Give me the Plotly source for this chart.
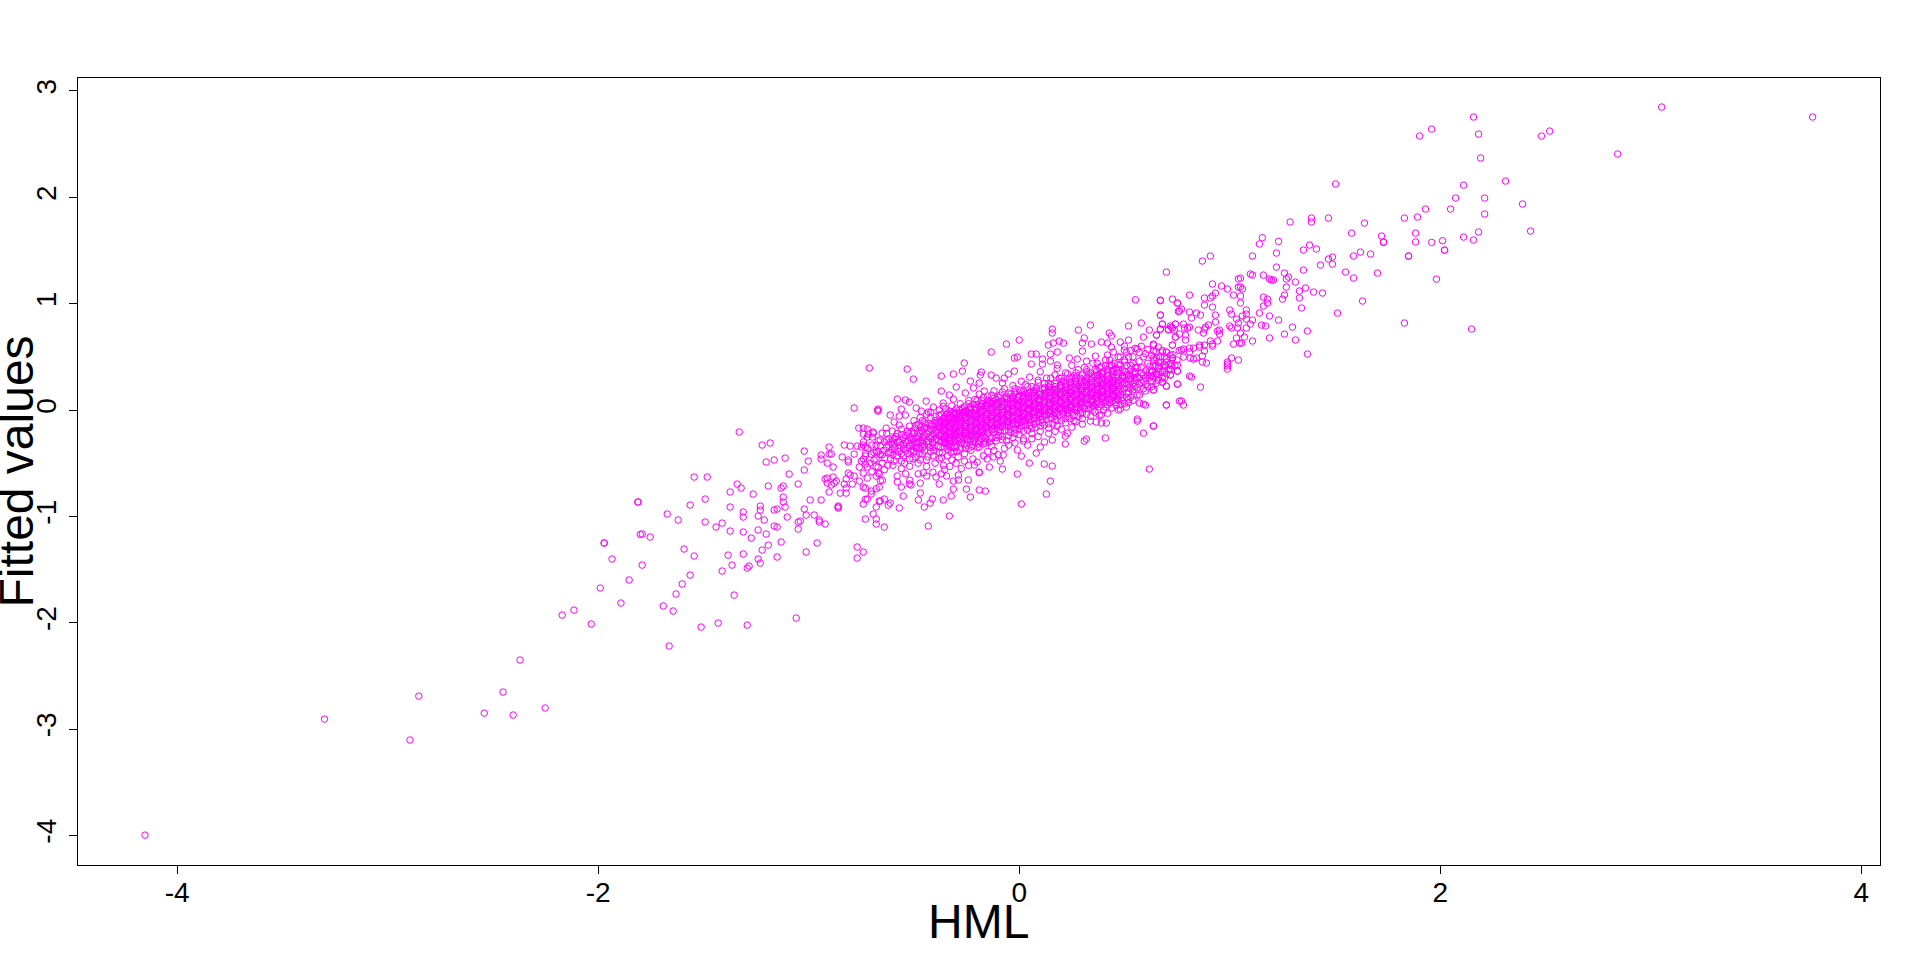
import plotly.graph_objects as go

X_TICKS = [-4, -2, 0, 2, 4]
Y_TICKS = [-4, -3, -2, -1, 0, 1, 2, 3]

# (HML, fitted value) pairs
FAR_LOW = [(-4.153,-3.997),(-3.30,-2.906),(-2.852,-2.69),(-2.894,-3.103),(-2.541,-2.85),(-2.452,-2.652),(-2.404,-2.868),(-2.371,-2.351),(-2.252,-2.802),(-2.171,-1.928),(-2.115,-1.881),(-2.033,-2.012),(-1.99,-1.674),(-1.971,-1.25),(-1.934,-1.401),(-1.892,-1.815),(-1.853,-1.598),(-1.812,-0.865),(-1.80,-1.17),(-1.753,-1.194),(-1.791,-1.458),(-1.511,-2.041),(-1.43,-2.003),(-1.292,-2.022),(-1.663,-2.219)]

LOW_SPARSE = [(-0.784,0.019),(-0.673,-0.003),(-1.33,-0.207),(-1.221,-0.329),(-1.183,-0.31),(-0.762,-0.17),(-0.741,-0.17),(-0.722,-0.179),(-0.741,-0.226),(-0.717,-0.226),(-0.694,-0.207),(-0.722,-0.254),(-0.698,-0.254),(-1.021,-0.386),(-0.903,-0.348),(-0.831,-0.329),(-0.803,-0.339),(-0.77,-0.339),(-0.75,-0.348),(-0.741,-0.329),(-0.731,-0.348),(-0.941,-0.423),(-0.941,-0.461),(-0.903,-0.414),(-0.893,-0.414),(-0.912,-0.499),(-0.884,-0.536),(-0.841,-0.442),(-0.812,-0.47),(-0.812,-0.489),(-0.784,-0.414),(-1.202,-0.489),(-1.164,-0.47),(-1.112,-0.452),(-1.002,-0.48),(-1.021,-0.564),(-1.093,-0.602),(-1.544,-0.63),(-1.482,-0.63),(-1.34,-0.696),(-1.321,-0.734),(-1.373,-0.771),(-1.264,-0.79),(-1.192,-0.715),(-1.131,-0.734),(-1.121,-0.715),(-1.05,-0.696),(-0.922,-0.649),(-0.912,-0.64),(-0.884,-0.63),(-0.869,-0.668),(-0.912,-0.687),(-0.893,-0.705),(-0.879,-0.687),(-0.903,-0.771),(-0.812,-0.593),(-0.803,-0.611),(-0.784,-0.621),(-0.822,-0.649),(-0.793,-0.696),(-0.831,-0.696),(-0.822,-0.734),(-0.85,-0.781),(-0.822,-0.781),(-0.76,-0.536),(-0.75,-0.48),(-0.731,-0.433),(-0.731,-0.508),(-0.722,-0.536),(-0.703,-0.414),(-0.679,-0.395),(-0.722,-0.64),(-0.741,-0.593),(-0.76,-0.668),(-0.741,-0.724),(-0.731,-0.734),(-0.703,-0.762),(-0.679,-0.621),(-0.67,-0.536),(-0.67,-0.593),(-0.665,-0.724),(-1.81,-0.865),(-1.492,-0.837),(-1.563,-0.893),(-1.121,-0.818),(-1.121,-0.865),(-0.993,-0.846),(-0.941,-0.846),(-0.722,-0.837),(-0.741,-0.884),(-0.665,-0.856),(-0.86,-0.903),(-0.86,-0.912),(-0.86,-0.922),(-1.373,-0.912),(-1.23,-0.903),(-1.23,-0.94),(-1.164,-0.94),(-1.15,-0.931),(-1.112,-0.912),(-1.021,-0.931),(-1.012,-0.987),(-0.974,-0.987),(-0.679,-0.912),(-0.694,-0.978),(-1.672,-0.978),(-1.62,-1.034),(-1.492,-1.053),(-1.44,-1.1),(-1.411,-1.063),(-1.311,-0.959),(-1.311,-1.006),(-1.24,-0.997),(-1.211,-1.034),(-1.102,-1.006),(-1.05,-1.053),(-1.04,-1.044),(-0.95,-1.034),(-0.95,-1.053),(-0.922,-1.072),(-0.731,-1.025),(-0.679,-1.025),(-0.679,-1.072),(-1.791,-1.166),(-1.373,-1.138),(-1.311,-1.147),(-1.24,-1.128),(-1.202,-1.166),(-1.164,-1.091),(-1.15,-1.1),(-1.05,-1.119),(-1.273,-1.204),(-1.972,-1.25),(-1.131,-1.241),(-0.96,-1.25),(-1.192,-1.27),(-1.221,-1.317),(-1.592,-1.307),(-1.544,-1.373),(-1.383,-1.364),(-1.311,-1.354),(-1.012,-1.335),(-0.77,-1.288),(-0.741,-1.335),(-0.77,-1.392),(-1.15,-1.382),(-1.24,-1.401),(-1.23,-1.439),(-1.364,-1.458),(-1.283,-1.467),(-1.292,-1.486),(-1.411,-1.514),(-1.563,-1.552),(-1.601,-1.636),(-1.63,-1.73),(-1.354,-1.74),(-1.691,-1.843),(-1.644,-1.89),(-1.059,-1.956)]

UPPER_EDGE = [(-0.712,0.395),(-0.532,0.385),(-0.503,0.291),(-0.37,0.319),(-0.37,0.178),(-0.261,0.442),(-0.27,0.366),(-0.313,0.338),(-0.299,0.216),(-0.332,0.141),(-0.313,0.103),(-0.232,0.272),(-0.218,0.207),(-0.256,0.16),(-0.133,0.545),(-0.061,0.62),(0.0,0.658),(-0.023,0.489),(-0.009,0.498),(0.057,0.526),(0.081,0.526),(0.057,0.432),(-0.18,0.357),(-0.185,0.329),(-0.133,0.329),(-0.109,0.3),(-0.071,0.3),(-0.023,0.366),(-0.052,0.338),(-0.08,0.254),(-0.19,0.254),(-0.19,0.15),(-0.166,0.178),(-0.579,0.103),(-0.541,0.094),(-0.522,0.075),(-0.442,0.084),(-0.67,0.009),(-0.67,-0.01),(-0.613,-0.047),(-0.56,0.009),(-0.57,-0.057),(-0.541,-0.047),(-0.489,0.018),(-0.465,-0.01),(-0.432,-0.019),(-0.408,0.028),(-0.361,0.066),(-0.361,0.034),(-0.594,-0.113),(-0.57,-0.141),(-0.522,-0.151),(-0.693,-0.217),(-0.632,-0.17),(-0.603,-0.198),(-0.651,-0.217),(0.157,0.761),(0.157,0.724),(0.281,0.752),(0.338,0.799),(0.519,0.79),(0.58,0.818),(0.618,0.752),(0.652,0.705),(0.59,0.686),(0.428,0.724),(0.438,0.696),(0.309,0.677),(0.3,0.63),(0.343,0.62),(0.39,0.639),(0.419,0.63),(0.438,0.592),(0.48,0.639),(0.519,0.658),(0.637,0.62),(0.138,0.611),(0.162,0.63),(0.19,0.648),(0.21,0.63),(0.181,0.545),(0.148,0.526),(0.3,0.554),(0.362,0.507),(0.11,0.479),(0.11,0.432),(0.148,0.46),(0.181,0.423),(0.238,0.489),(0.276,0.479),(0.447,0.545),(0.419,0.517),(0.499,0.564),(0.561,0.573),(0.67,0.893),(0.68,0.808),(0.67,0.761),(0.708,0.761),(0.723,0.78),(0.742,0.808),(0.742,0.686),(0.728,0.611),(0.751,1.006),(0.67,1.028),(0.756,0.927),(0.552,1.037),(0.699,0.545),(0.728,0.489),(0.751,0.366),(0.718,0.329),(0.68,0.263),(0.699,0.225),(0.637,0.188),(0.751,0.244),(0.761,0.084),(0.699,0.047)]

LOWER_EDGE = [(0.571,0.141),(0.571,0.066),(0.59,0.056),(0.6,0.047),(0.509,0.028),(0.471,0.0),(0.48,0.009),(0.561,-0.085),(0.561,-0.104),(0.637,-0.151),(0.59,-0.217),(0.618,-0.555),(0.409,-0.263),(0.319,-0.273),(0.309,-0.292),(0.219,-0.32),(0.229,-0.217),(0.219,-0.245),(0.3,-0.132),(0.338,-0.104),(0.39,-0.047),(0.414,-0.122),(0.39,-0.122),(0.366,-0.113),(0.157,-0.282),(0.157,-0.527),(0.119,-0.508),(0.1,-0.348),(0.081,-0.405),(0.048,-0.499),(0.148,-0.668),(0.129,-0.79),(0.01,-0.884),(-0.009,-0.602),(0.01,-0.433),(-0.009,-0.376),(-0.076,-0.423),(-0.08,-0.555),(-0.09,-0.48),(-0.142,-0.536),(-0.123,-0.442),(-0.152,-0.461),(-0.213,-0.517),(-0.19,-0.583),(-0.19,-0.59),(-0.161,-0.762),(-0.19,-0.752),(-0.251,-0.743),(-0.242,-0.658),(-0.232,-0.818),(-0.289,-0.611),(-0.289,-0.658),(-0.313,-0.668),(-0.313,-0.743),(-0.323,-0.809),(-0.38,-0.696),(-0.361,-0.846),(-0.332,-0.997),(-0.432,-1.091),(-0.413,-0.837),(-0.423,-0.875),(-0.451,-0.912),(-0.479,-0.846),(-0.47,-0.78),(-0.47,-0.687),(-0.551,-0.809),(-0.57,-0.921),(-0.613,-0.875),(-0.622,-0.894),(-0.641,-0.837),(-0.66,-0.856),(-0.679,-0.74),(-0.66,-0.665),(-0.65,-0.66),(-0.665,-0.6),(-0.641,-1.1),(-0.731,-0.84),(-0.703,-0.79),(-0.514,-0.705),(-0.522,-0.695),(-0.56,-0.724),(-0.579,-0.677),(-0.58,-0.62),(-0.54,-0.6),(-0.52,-0.66),(-0.48,-0.6),(-0.455,-0.59),(-0.44,-0.62),(-0.41,-0.585),(-0.395,-0.63),(-0.37,-0.6),(-0.355,-0.56),(-0.345,-0.62),(-0.33,-0.53),(-0.30,-0.5),(-0.275,-0.55),(-0.26,-0.48),(-0.24,-0.52),(-0.22,-0.46),(-0.2,-0.49),(-0.17,-0.43),(-0.15,-0.39),(-0.12,-0.38),(-0.1,-0.42),(-0.07,-0.36),(-0.05,-0.33),(-0.02,-0.31),(0.02,-0.29),(0.04,-0.33),(0.06,-0.27),(0.09,-0.25),(0.12,-0.3),(0.14,-0.22),(0.17,-0.2),(0.2,-0.18),(0.25,-0.16),(0.27,-0.11)]

MIDDLE_LEFT = [(-0.74,-0.3),(-0.72,-0.36),(-0.74,-0.46),(-0.71,-0.5),(-0.7,-0.58),(-0.68,-0.46),(-0.66,-0.34),(-0.66,-0.42),(-0.65,-0.5),(-0.64,-0.56),(-0.63,-0.28),(-0.62,-0.33),(-0.62,-0.4),(-0.61,-0.46),(-0.6,-0.52),(-0.6,-0.27),(-0.59,-0.36),(-0.58,-0.43),(-0.58,-0.22),(-0.57,-0.3),(-0.56,-0.48),(-0.56,-0.55),(-0.55,-0.36),(-0.54,-0.24),(-0.54,-0.29),(-0.53,-0.41),(-0.52,-0.46),(-0.52,-0.53),(-0.51,-0.2),(-0.5,-0.27),(-0.5,-0.34),(-0.5,-0.39),(-0.49,-0.44),(-0.49,-0.14),(-0.48,-0.5),(-0.47,-0.22),(-0.47,-0.29),(-0.46,-0.35),(-0.46,-0.41),(-0.46,-0.1),(-0.45,-0.17),(-0.44,-0.47),(-0.44,-0.53),(-0.43,-0.25),(-0.43,-0.32),(-0.42,-0.39),(-0.42,-0.07),(-0.41,-0.14),(-0.41,-0.43),(-0.4,-0.19),(-0.4,-0.5),(-0.39,-0.27),(-0.39,-0.34),(-0.38,-0.4),(-0.38,-0.05),(-0.37,-0.11),(-0.37,-0.45),(-0.36,-0.17),(-0.36,-0.52),(-0.35,-0.24),(-0.35,-0.31),(-0.34,-0.37),(-0.34,-0.43),(-0.33,-0.01),(-0.33,-0.07),(-0.32,-0.13),(-0.32,-0.47),(-0.31,-0.2),(-0.31,-0.39),(-0.3,-0.04),(-0.29,-0.1),(-0.29,-0.44),(-0.28,-0.35),(-0.27,0.02),(-0.27,-0.06),(-0.26,-0.41),(-0.25,-0.33),(-0.24,0.06),(-0.24,-0.02),(-0.23,-0.38),(-0.22,-0.3),(-0.21,0.1),(-0.21,0.02),(-0.2,-0.35),(-0.19,-0.29),(-0.18,0.09),(-0.18,0.04),(-0.17,-0.32),(-0.16,-0.27),(-0.15,0.13),(-0.15,0.06),(-0.14,-0.3),(-0.12,0.11),(-0.12,0.18),(-0.11,-0.26),(-0.1,0.07),(-0.09,0.14),(-0.08,-0.28),(-0.07,0.2),(-0.07,0.11),(-0.05,-0.24),(-0.04,0.15),(-0.03,0.23),(-0.02,-0.22),(-0.01,0.12),(0.0,0.19),(0.01,0.27),(0.02,-0.2),(0.03,0.15),(0.04,0.22),(0.05,0.31),(0.06,-0.17),(0.07,0.18),(0.09,0.26),(0.1,0.36),(0.1,-0.15),(0.12,0.21),(0.13,0.3),(0.14,-0.13),(0.15,0.24),(0.17,0.33),(0.18,-0.1),(0.18,0.39),(0.2,0.27),(0.22,0.35),(0.22,-0.08),(0.24,0.3),(0.25,0.42),(0.26,-0.05),(0.27,0.35),(0.29,0.3),(0.3,-0.03),(0.31,0.4),(0.32,0.46),(0.33,0.34),(0.34,0.02),(0.36,0.38),(0.37,0.44),(0.38,0.03),(0.39,0.34),(0.41,0.42),(0.42,0.05),(0.43,0.47),(0.45,0.38),(0.46,0.07)]

MIDDLE_LEFT_EXTRA = [(-0.73,-0.41),(-0.7,-0.33),(-0.69,-0.4),(-0.68,-0.53),(-0.67,-0.29),(-0.645,-0.38),(-0.64,-0.45),(-0.63,-0.22),(-0.625,-0.52),(-0.61,-0.3),(-0.605,-0.37),(-0.6,-0.42),(-0.595,-0.48),(-0.585,-0.25),(-0.575,-0.39),(-0.565,-0.33),(-0.56,-0.18),(-0.55,-0.43),(-0.545,-0.5),(-0.535,-0.31),(-0.53,-0.36),(-0.525,-0.22),(-0.515,-0.39),(-0.51,-0.28),(-0.505,-0.46),(-0.495,-0.17),(-0.49,-0.31),(-0.485,-0.36),(-0.48,-0.25),(-0.475,-0.41),(-0.47,-0.47),(-0.465,-0.19),(-0.46,-0.31),(-0.455,-0.26),(-0.45,-0.38),(-0.445,-0.13),(-0.44,-0.22),(-0.435,-0.44),(-0.43,-0.29),(-0.425,-0.35),(-0.42,-0.18),(-0.415,-0.25),(-0.41,-0.31),(-0.405,-0.38),(-0.4,-0.1),(-0.395,-0.22),(-0.39,-0.15),(-0.385,-0.29),(-0.38,-0.46),(-0.375,-0.35),(-0.37,-0.25),(-0.365,-0.4),(-0.36,-0.08),(-0.355,-0.35),(-0.345,-0.04),(-0.335,-0.34),(-0.325,-0.4),(-0.315,-0.03),(-0.305,-0.35),(-0.295,-0.39),(-0.285,0.0),(-0.275,-0.31),(-0.265,-0.02),(-0.255,-0.36),(-0.245,-0.29),(-0.235,0.02),(-0.225,-0.34),(-0.215,-0.27),(-0.205,0.05),(-0.195,-0.32),(-0.185,-0.25),(-0.175,0.06),(-0.165,-0.29),(-0.14,0.08),(-0.13,-0.26),(-0.11,0.1),(-0.09,-0.24),(-0.06,0.13),(-0.04,-0.21),(-0.02,0.16),(0.0,-0.18),(0.02,0.18),(0.05,-0.15),(0.08,0.21),(0.11,-0.12),(0.14,0.25),(0.17,-0.09),(0.2,0.3),(0.23,-0.06),(0.26,0.32),(0.29,-0.03),(0.32,0.36),(0.35,0.0),(0.38,0.4),(0.41,0.03),(0.44,0.42),(0.47,0.1)]

MIDDLE_RIGHT = [(0.47,0.43),(0.48,0.5),(0.49,0.12),(0.5,0.36),(0.5,0.47),(0.51,0.54),(0.52,0.1),(0.52,0.17),(0.53,0.42),(0.54,0.5),(0.55,0.3),(0.55,0.36),(0.56,0.14),(0.56,0.21),(0.57,0.46),(0.57,0.54),(0.58,0.26),(0.58,0.4),(0.59,0.33),(0.59,0.5),(0.6,0.18),(0.6,0.24),(0.61,0.44),(0.61,0.57),(0.62,0.3),(0.62,0.37),(0.63,0.51),(0.63,0.22),(0.64,0.41),(0.64,0.47),(0.65,0.34),(0.65,0.55),(0.66,0.28),(0.66,0.39),(0.67,0.45),(0.67,0.5),(0.68,0.36),(0.68,0.56),(0.69,0.42),(0.69,0.3),(0.7,0.48),(0.71,0.38),(0.72,0.44),(0.73,0.52),(0.74,0.42),(0.75,0.47),(0.76,0.56),(0.58,0.6),(0.6,0.53),(0.55,0.58),(0.53,0.56),(0.5,0.6)]

UPPER_TAIL = [(1.141,1.561),(1.232,1.586),(1.222,1.476),(1.35,1.504),(1.379,1.551),(1.412,1.514),(1.73,1.576),(1.959,1.576),(2.011,1.592),(2.021,1.504),(1.849,1.448),(1.621,1.485),(1.588,1.448),(1.669,1.467),(1.469,1.42),(1.488,1.438),(1.488,1.372),(1.431,1.363),(1.222,1.344),(1.35,1.316),(1.55,1.297),(1.588,1.241),(1.702,1.288),(1.982,1.231),(1.631,1.025),(1.512,0.912),(1.83,0.818),(2.149,0.762),(0.908,1.448),(0.87,1.401),(1.108,1.448),(0.699,1.297),(1.098,1.279),(1.108,1.269),(1.16,1.269),(1.26,1.288),(1.279,1.25),(1.269,1.232),(1.189,1.232),(1.198,1.222),(1.208,1.222),(1.312,1.203),(1.041,1.232),(1.051,1.241),(0.918,1.185),(0.961,1.166),(0.989,1.138),(1.041,1.156),(1.051,1.156),(1.06,1.138),(1.269,1.156),(1.36,1.147),(1.331,1.119),(1.398,1.109),(1.441,1.1),(1.26,1.081),(1.251,1.043),(1.331,1.053),(1.341,0.959),(0.809,1.081),(0.932,1.1),(0.88,1.053),(0.908,1.053),(0.918,1.072),(1.018,1.081),(1.051,1.072),(1.051,1.006),(1.16,1.062),(1.179,1.043),(1.179,1.006),(1.16,0.978),(0.671,1.034),(0.728,1.043),(0.752,1.006),(0.88,0.987),(0.918,0.968),(0.771,0.949),(0.761,0.931),(1.0,0.94),(1.008,0.902),(1.079,0.94),(1.079,0.902),(1.06,0.884),(1.032,0.855),(1.041,0.818),(1.079,0.855),(1.108,0.846),(1.098,0.808),(1.141,0.912),(1.189,0.884),(1.232,0.846),(1.151,0.799),(1.17,0.79),(0.671,0.893),(0.809,0.921),(0.818,0.865),(0.842,0.912),(0.861,0.893),(0.932,0.893),(0.932,0.827),(0.899,0.799),(0.68,0.808),(0.718,0.79),(0.742,0.808),(0.78,0.808),(0.809,0.78),(0.671,0.761),(0.709,0.752),(0.728,0.771),(0.737,0.752),(0.785,0.771),(0.799,0.771),(0.851,0.752),(0.875,0.724),(0.885,0.78),(0.88,0.761),(0.942,0.743),(0.951,0.752),(0.951,0.714),(1.0,0.79),(1.008,0.771),(1.037,0.771),(1.079,0.771),(1.051,0.724),(1.07,0.686),(1.032,0.677),(1.298,0.78),(1.369,0.743),(1.26,0.714),(1.189,0.677),(1.312,0.658),(1.108,0.649),(1.369,0.526),(0.652,0.705),(0.742,0.686),(0.761,0.714),(0.79,0.705),(0.79,0.658),(0.728,0.611),(0.638,0.611),(0.661,0.592),(0.908,0.649),(0.942,0.649),(0.918,0.62),(0.918,0.601),(0.856,0.611),(0.88,0.611),(0.88,0.555),(1.018,0.62),(1.046,0.629),(1.056,0.629),(0.771,0.564),(0.78,0.573),(0.809,0.582),(0.828,0.582),(0.856,0.592),(0.809,0.545),(0.638,0.555),(0.68,0.545),(0.699,0.545),(0.718,0.517),(0.728,0.489),(0.78,0.498),(0.813,0.489),(0.828,0.479),(0.842,0.489),(0.87,0.508),(0.87,0.451),(0.889,0.442),(1.008,0.489),(1.041,0.47),(0.989,0.451),(0.989,0.432),(0.989,0.414),(0.989,0.385),(0.661,0.451),(0.638,0.489),(0.652,0.489),(0.69,0.498),(0.699,0.451),(0.661,0.414),(0.695,0.414),(0.723,0.414),(0.752,0.423),(0.752,0.367),(0.718,0.385),(0.718,0.329),(0.652,0.338),(0.633,0.367),(0.628,0.32),(0.809,0.32),(0.818,0.31),(0.68,0.263),(0.699,0.226),(0.752,0.244),(0.861,0.216),(0.638,0.188),(0.699,0.047),(0.771,0.085),(0.78,0.047),(0.638,-0.15),(1.503,2.125),(1.287,1.768),(1.388,1.805),(1.388,1.768),(1.469,1.805),(1.64,1.758),(1.579,1.664),(1.721,1.636),(1.731,1.58),(1.155,1.62)]

FAR_HIGH = [(3.052,2.849),(3.769,2.755),(2.158,2.755),(2.182,2.595),(1.959,2.642),(1.902,2.576),(2.481,2.576),(2.52,2.623),(2.192,2.37),(2.843,2.407),(2.31,2.153),(2.111,2.115),(2.073,1.993),(2.211,1.993),(2.391,1.937),(1.93,1.89),(2.049,1.89),(1.83,1.805),(1.892,1.815),(2.211,1.843),(1.883,1.664),(2.182,1.674),(2.111,1.627),(2.429,1.683),(1.883,1.58),(2.158,1.598),(2.02,1.504),(1.85,1.448)]

CORE = [
(-0.37,-0.29),(-0.36,-0.26),(-0.37,-0.22),(-0.36,-0.19),(-0.37,-0.16),(-0.36,-0.13),(-0.37,-0.10),
(-0.34,-0.28),(-0.35,-0.25),(-0.34,-0.21),(-0.35,-0.18),(-0.34,-0.15),(-0.35,-0.11),(-0.34,-0.08),
(-0.32,-0.27),(-0.31,-0.24),(-0.32,-0.21),(-0.31,-0.17),(-0.32,-0.14),(-0.31,-0.11),(-0.32,-0.07),
(-0.29,-0.26),(-0.30,-0.23),(-0.29,-0.20),(-0.30,-0.16),(-0.29,-0.13),(-0.30,-0.09),(-0.29,-0.06),
(-0.27,-0.25),(-0.26,-0.22),(-0.27,-0.19),(-0.26,-0.15),(-0.27,-0.12),(-0.26,-0.08),(-0.27,-0.05),
(-0.24,-0.24),(-0.25,-0.21),(-0.24,-0.17),(-0.25,-0.14),(-0.24,-0.11),(-0.25,-0.07),(-0.24,-0.04),
(-0.22,-0.23),(-0.21,-0.19),(-0.22,-0.16),(-0.21,-0.13),(-0.22,-0.10),(-0.21,-0.06),(-0.22,-0.03),
(-0.19,-0.21),(-0.20,-0.18),(-0.19,-0.15),(-0.20,-0.12),(-0.19,-0.08),(-0.20,-0.05),(-0.19,-0.02),
(-0.17,-0.20),(-0.16,-0.17),(-0.17,-0.14),(-0.16,-0.10),(-0.17,-0.07),(-0.16,-0.04),(-0.17,-0.01),
(-0.14,-0.19),(-0.15,-0.16),(-0.14,-0.12),(-0.15,-0.09),(-0.14,-0.06),(-0.15,-0.03),(-0.14,0.01),
(-0.12,-0.18),(-0.11,-0.14),(-0.12,-0.11),(-0.11,-0.08),(-0.12,-0.05),(-0.11,-0.02),(-0.12,0.02),
(-0.09,-0.16),(-0.10,-0.13),(-0.09,-0.10),(-0.10,-0.07),(-0.09,-0.04),(-0.10,0.0),(-0.09,0.03),
(-0.07,-0.15),(-0.06,-0.12),(-0.07,-0.09),(-0.06,-0.05),(-0.07,-0.02),(-0.06,0.01),(-0.07,0.04),
(-0.04,-0.14),(-0.05,-0.11),(-0.04,-0.07),(-0.05,-0.04),(-0.04,-0.01),(-0.05,0.02),(-0.04,0.06),
(-0.02,-0.13),(-0.01,-0.09),(-0.02,-0.06),(-0.01,-0.03),(-0.02,0.0),(-0.01,0.04),(-0.02,0.07),
(0.01,-0.11),(0.0,-0.08),(0.01,-0.05),(0.0,-0.02),(0.01,0.02),(0.0,0.05),(0.01,0.08),
(0.03,-0.10),(0.04,-0.07),(0.03,-0.04),(0.04,0.0),(0.03,0.03),(0.04,0.06),(0.03,0.09),
(0.06,-0.09),(0.05,-0.06),(0.06,-0.02),(0.05,0.01),(0.06,0.04),(0.05,0.07),(0.06,0.11),
(0.08,-0.08),(0.09,-0.04),(0.08,-0.01),(0.09,0.02),(0.08,0.05),(0.09,0.09),(0.08,0.12),
(0.11,-0.06),(0.10,-0.03),(0.11,0.0),(0.10,0.03),(0.11,0.07),(0.10,0.10),(0.11,0.13),
(0.13,-0.05),(0.14,-0.02),(0.13,0.01),(0.14,0.05),(0.13,0.08),(0.14,0.11),(0.13,0.14),
(0.16,-0.04),(0.15,-0.01),(0.16,0.03),(0.15,0.06),(0.16,0.09),(0.15,0.12),(0.16,0.16),
(0.18,-0.03),(0.19,0.01),(0.18,0.04),(0.19,0.07),(0.18,0.10),(0.19,0.14),(0.18,0.17),
(0.21,-0.01),(0.20,0.02),(0.21,0.05),(0.20,0.08),(0.21,0.12),(0.20,0.15),(0.21,0.18),
(0.23,0.0),(0.24,0.03),(0.23,0.06),(0.24,0.10),(0.23,0.13),(0.24,0.16),(0.23,0.19),
(0.26,0.01),(0.25,0.04),(0.26,0.08),(0.25,0.11),(0.26,0.14),(0.25,0.17),(0.26,0.21),
(0.28,0.02),(0.29,0.06),(0.28,0.09),(0.29,0.12),(0.28,0.15),(0.29,0.19),(0.28,0.22),
(0.31,0.04),(0.30,0.07),(0.31,0.10),(0.30,0.13),(0.31,0.17),(0.30,0.20),(0.31,0.23),
(0.33,0.05),(0.34,0.08),(0.33,0.11),(0.34,0.15),(0.33,0.18),(0.34,0.21),(0.33,0.24),
(0.36,0.06),(0.35,0.09),(0.36,0.13),(0.35,0.16),(0.36,0.19),(0.35,0.22),(0.36,0.26),
(0.38,0.07),(0.39,0.11),(0.38,0.14),(0.39,0.17),(0.38,0.20),(0.39,0.24),(0.38,0.27),
(0.41,0.09),(0.40,0.12),(0.41,0.15),(0.40,0.18),(0.41,0.22),(0.40,0.25),(0.41,0.28),
(0.43,0.10),(0.44,0.13),(0.43,0.16),(0.44,0.20),(0.43,0.23),(0.44,0.26),(0.43,0.29),
(0.46,0.11),(0.45,0.14),(0.46,0.18),(0.45,0.21),(0.46,0.24),(0.45,0.27),(0.46,0.31),
(0.48,0.14),(0.49,0.17),(0.48,0.20),(0.49,0.24),(0.48,0.28),(0.49,0.32),
(0.51,0.16),(0.52,0.21),(0.51,0.25),(0.52,0.29),(0.51,0.33),
(0.54,0.19),(0.54,0.25),(0.55,0.34),(0.53,0.31),
]

# The solid centre of the cloud cannot be read mark by mark: estimated by eye, column by column
CORE_COLUMNS = {
-0.355:[-0.31,-0.275,-0.24,-0.205,-0.17,-0.135,-0.10,-0.065],
-0.33:[-0.295,-0.26,-0.225,-0.19,-0.155,-0.12,-0.085,-0.05],
-0.305:[-0.28,-0.245,-0.21,-0.175,-0.14,-0.105,-0.07,-0.035],
-0.28:[-0.27,-0.235,-0.2,-0.165,-0.13,-0.095,-0.06,-0.025],
-0.255:[-0.255,-0.22,-0.185,-0.15,-0.115,-0.08,-0.045,-0.01],
-0.23:[-0.24,-0.205,-0.17,-0.135,-0.1,-0.065,-0.03,0.005],
-0.205:[-0.23,-0.195,-0.16,-0.125,-0.09,-0.055,-0.02,0.015],
-0.18:[-0.215,-0.18,-0.145,-0.11,-0.075,-0.04,-0.005,0.03],
-0.155:[-0.2,-0.165,-0.13,-0.095,-0.06,-0.025,0.01,0.045],
-0.13:[-0.185,-0.15,-0.115,-0.08,-0.045,-0.01,0.025,0.06],
-0.105:[-0.175,-0.14,-0.105,-0.07,-0.035,0.0,0.035,0.07],
-0.08:[-0.16,-0.125,-0.09,-0.055,-0.02,0.015,0.05,0.085],
-0.055:[-0.145,-0.11,-0.075,-0.04,-0.005,0.03,0.065,0.1],
-0.03:[-0.13,-0.095,-0.06,-0.025,0.01,0.045,0.08,0.115],
-0.005:[-0.12,-0.085,-0.05,-0.015,0.02,0.055,0.09,0.125],
0.02:[-0.105,-0.07,-0.035,0.0,0.035,0.07,0.105,0.14],
0.045:[-0.09,-0.055,-0.02,0.015,0.05,0.085,0.12,0.155],
0.07:[-0.08,-0.045,-0.01,0.025,0.06,0.095,0.13,0.165],
0.095:[-0.065,-0.03,0.005,0.04,0.075,0.11,0.145,0.18],
0.12:[-0.05,-0.015,0.02,0.055,0.09,0.125,0.16,0.195],
0.145:[-0.035,0.0,0.035,0.07,0.105,0.14,0.175,0.21],
0.17:[-0.025,0.01,0.045,0.08,0.115,0.15,0.185,0.22],
0.195:[-0.01,0.025,0.06,0.095,0.13,0.165,0.2,0.235],
0.22:[0.005,0.04,0.075,0.11,0.145,0.18,0.215,0.25],
0.245:[0.02,0.055,0.09,0.125,0.16,0.195,0.23,0.265],
0.27:[0.03,0.065,0.1,0.135,0.17,0.205,0.24,0.275],
0.295:[0.045,0.08,0.115,0.15,0.185,0.22,0.255,0.29],
0.32:[0.06,0.095,0.13,0.165,0.2,0.235,0.27,0.305],
0.345:[0.07,0.105,0.14,0.175,0.21,0.245,0.28,0.315],
0.37:[0.085,0.12,0.155,0.19,0.225,0.26,0.295,0.33],
0.395:[0.1,0.135,0.17,0.205,0.24,0.275,0.31,0.345],
0.42:[0.11,0.145,0.18,0.215,0.25,0.285,0.32,0.355],
0.445:[0.125,0.16,0.195,0.23,0.265,0.3,0.335,0.37],
0.47:[0.14,0.175,0.21,0.245,0.28,0.315,0.35,0.385],
}

# Crowded zone just above and below the solid centre, and at its two ends (estimated by eye)
HALO_ABOVE = [(-.5,-.1),(-.48,-.14),(-.47,-.07),(-.45,-.11),(-.44,-.04),(-.43,-.13),(-.42,-.02),(-.40,-.06),(-.39,-.12),(-.38,0.0),(-.37,-.04),(-.36,-.08),(-.35,.01),(-.34,-.03),(-.33,-.05),(-.32,.04),(-.31,-.02),(-.30,.01),(-.29,-.03),(-.28,.06),(-.27,.0),(-.26,.03),(-.25,-.01),(-.24,.09),(-.23,.03),(-.22,.05),(-.21,.0),(-.20,.09),(-.19,.03),(-.18,.06),(-.17,.12),(-.16,.04),(-.15,.09),(-.14,.06),(-.13,.14),(-.12,.08),(-.11,.05),(-.10,.12),(-.09,.08),(-.08,.17),(-.07,.07),(-.06,.11),(-.05,.16),(-.04,.1),(-.03,.13),(-.02,.2),(-.01,.09),(.0,.14),(.01,.18),(.02,.12),(.03,.24),(.04,.14),(.05,.17),(.06,.22),(.07,.14),(.08,.19),(.09,.28),(.10,.15),(.11,.2),(.12,.25),(.13,.17),(.14,.22),(.15,.3),(.16,.19),(.17,.25),(.18,.2),(.19,.3),(.2,.23),(.21,.27),(.22,.22),(.23,.34),(.24,.26),(.25,.3),(.26,.24),(.27,.31),(.28,.38),(.29,.27),(.3,.33),(.31,.27),(.32,.38),(.33,.3),(.34,.35),(.35,.44),(.36,.32),(.37,.37),(.38,.33),(.39,.41),(.4,.36),(.41,.47),(.42,.38),(.43,.42),(.44,.36),(.45,.44),(.46,.39),(.47,.5),(.48,.42),(.49,.38),(.5,.45),(.51,.42),(.52,.5),(.53,.38),(.54,.44),(.55,.4)]

HALO_BELOW = [(-.34,-.33),(-.33,-.29),(-.32,-.35),(-.31,-.3),(-.30,-.33),(-.29,-.29),(-.28,-.37),(-.27,-.28),(-.26,-.32),(-.25,-.27),(-.24,-.36),(-.23,-.28),(-.22,-.25),(-.21,-.31),(-.2,-.24),(-.19,-.35),(-.18,-.27),(-.17,-.24),(-.16,-.31),(-.15,-.22),(-.14,-.27),(-.13,-.34),(-.12,-.21),(-.11,-.29),(-.1,-.24),(-.09,-.2),(-.08,-.25),(-.07,-.19),(-.06,-.29),(-.05,-.2),(-.04,-.17),(-.03,-.26),(-.02,-.18),(-.01,-.15),(.0,-.23),(.01,-.15),(.02,-.27),(.03,-.14),(.04,-.19),(.05,-.12),(.06,-.22),(.07,-.13),(.08,-.16),(.09,-.11),(.1,-.2),(.11,-.09),(.12,-.14),(.13,-.09),(.14,-.17),(.15,-.07),(.16,-.13),(.17,-.06),(.18,-.15),(.19,-.05),(.2,-.1),(.21,-.04),(.22,-.12),(.23,-.03),(.24,-.08),(.25,-.02),(.26,-.1),(.27,0),(.28,-.06),(.29,.0),(.3,-.08),(.31,.02),(.32,-.04),(.33,.01),(.34,-.06),(.35,.04),(.36,-.02),(.37,.05),(.38,-.05),(.39,.05),(.4,.0),(.41,.07),(.42,-.03),(.43,.07),(.44,.02),(.45,.09),(.46,.04),(.47,.1),(.48,.05),(.49,.09),(.5,.06),(.51,.12),(.52,.07),(.53,.12),(.54,.09)]

HALO_RIGHT_END = [(.49,.27),(.49,.3),(.5,.2),(.5,.25),(.5,.31),(.505,.36),(.52,.24),(.52,.33),(.53,.2),(.53,.27),(.54,.35),(.55,.22),(.55,.28),(.56,.31),(.56,.4),(.57,.24),(.57,.3),(.58,.35),(.59,.2),(.59,.27),(.6,.3),(.6,.37),(.61,.22),(.61,.33),(.62,.41),(.63,.27),(.63,.36),(.64,.31),(.65,.25),(.65,.42),(.66,.33),(.67,.36),(.68,.3),(.69,.37),(.7,.34),(.71,.43)]

HALO_LEFT_END = [(-.38,-.24),(-.38,-.17),(-.38,-.12),(-.39,-.2),(-.4,-.28),(-.4,-.13),(-.41,-.22),(-.41,-.35),(-.42,-.27),(-.42,-.15),(-.43,-.2),(-.44,-.3),(-.44,-.17),(-.45,-.24),(-.45,-.34),(-.46,-.2),(-.46,-.28),(-.47,-.16),(-.47,-.37),(-.48,-.3),(-.48,-.21),(-.49,-.26),(-.49,-.35),(-.5,-.22),(-.5,-.31),(-.51,-.37),(-.52,-.26),(-.52,-.33),(-.53,-.2),(-.53,-.29),(-.54,-.38),(-.55,-.26),(-.55,-.32),(-.56,-.23),(-.56,-.41),(-.57,-.36),(-.58,-.3),(-.59,-.27),(-.6,-.33),(-.61,-.4),(-.62,-.27),(-.63,-.35),(-.64,-.3),(-.65,-.42),(-.66,-.28),(-.67,-.39),(-.68,-.33),(-.69,-.47)]

ALL_POINTS = (FAR_LOW + LOW_SPARSE + UPPER_EDGE + LOWER_EDGE + MIDDLE_LEFT + MIDDLE_LEFT_EXTRA
              + MIDDLE_RIGHT + UPPER_TAIL + FAR_HIGH + CORE
              + HALO_ABOVE + HALO_BELOW + HALO_RIGHT_END + HALO_LEFT_END
              + [(x, y) for x, ys in CORE_COLUMNS.items() for y in ys])
hml = [p[0] for p in ALL_POINTS]
fitted = [p[1] for p in ALL_POINTS]

FONT = "Liberation Sans, Arial, sans-serif"

fig = go.Figure(go.Scatter(
    x=hml, y=fitted, mode="markers",
    marker=dict(symbol="circle-open", size=6.5, color="#FF00FF", line=dict(width=1, color="#FF00FF")),
    showlegend=False,
))

axis_common = dict(
    showgrid=False, zeroline=False, showline=True, mirror=True, automargin=False,
    linecolor="black", linewidth=1, ticks="outside", ticklen=8, tickwidth=1, tickcolor="black",
    tickfont=dict(family=FONT, size=28, color="black"), tickmode="array",
)

fig.update_layout(
    width=1920, height=963,
    margin=dict(l=78, r=40, t=78, b=98, pad=0),
    plot_bgcolor="white", paper_bgcolor="white",
    xaxis=dict(range=[-4.471, 4.089], tickvals=X_TICKS, ticktext=[str(v) for v in X_TICKS],
               ticklabelstandoff=-6, **axis_common),
    yaxis=dict(range=[-4.278, 3.122], tickvals=Y_TICKS, ticktext=[str(v) for v in Y_TICKS], tickangle=-90,
               ticklabelstandoff=2, **axis_common),
    annotations=[
        dict(text="HML", xref="paper", yref="paper", x=0.4995, y=-0.0724, xanchor="center", yanchor="middle",
             showarrow=False, font=dict(family=FONT, size=48, color="black")),
        dict(text="Fitted values", xref="paper", yref="paper", x=-0.0344, y=0.5, xanchor="center", yanchor="middle",
             textangle=-90, showarrow=False, font=dict(family=FONT, size=48, color="black")),
    ],
)

fig.write_html("out.html", config=dict(displayModeBar=False),
               post_script="document.body.style.margin='0';document.body.style.overflow='hidden';")
